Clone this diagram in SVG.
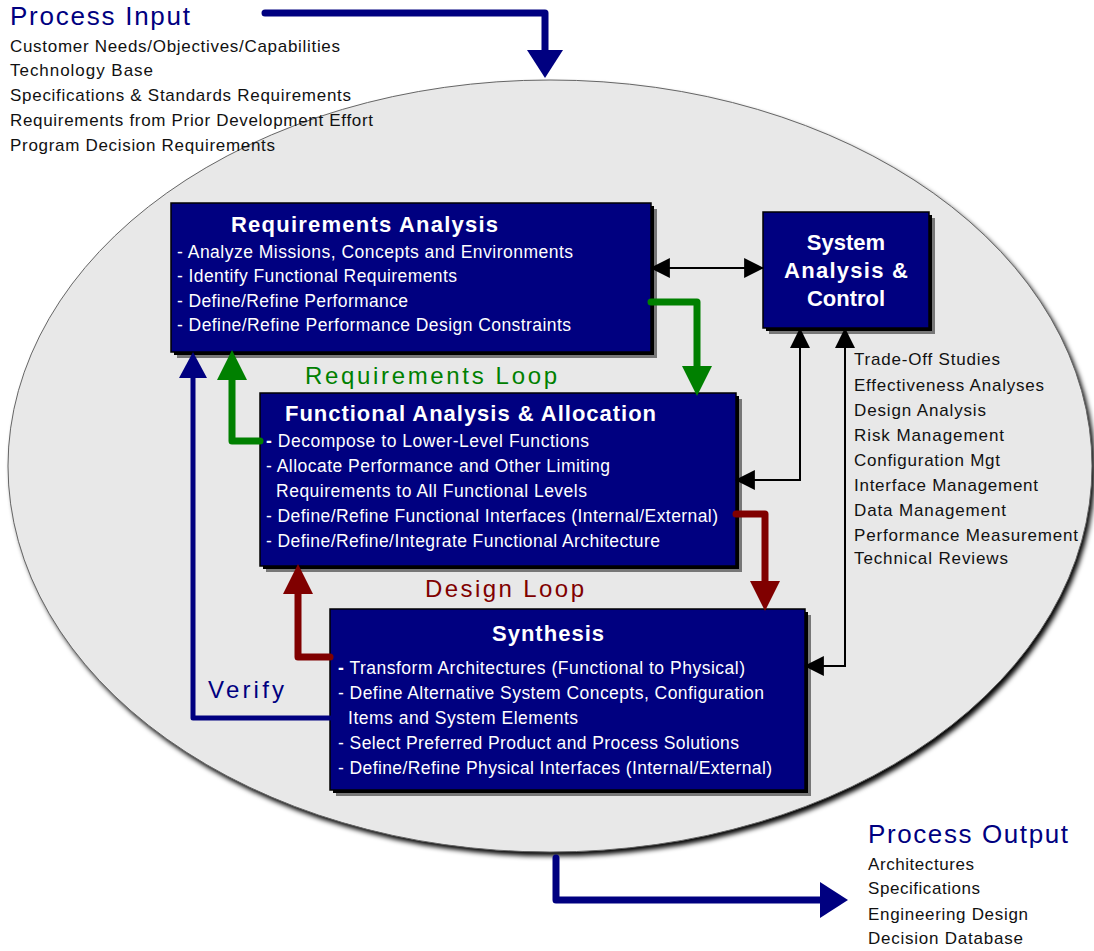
<svg xmlns="http://www.w3.org/2000/svg" width="1094" height="951" viewBox="0 0 1094 951">
<defs>
<style>
text{font-family:"Liberation Sans",Arial,sans-serif;}
.box{fill:#000080;stroke:#000;stroke-width:1.5;}
.sh1{fill:#000;}
.sh2{fill:#777;}
.title{fill:#fff;font-weight:bold;font-size:22px;}
.item{fill:#fff;font-size:17.5px;}
.list{fill:#111;font-size:17px;}
.head{fill:#000080;font-size:26px;}
.blk{fill:none;stroke:#000;stroke-width:2;}
.nav{fill:none;stroke:#000080;stroke-width:7;stroke-linejoin:round;stroke-linecap:round;}
.ver{fill:none;stroke:#000080;stroke-width:5;stroke-linejoin:round;stroke-linecap:round;}
.grn{fill:none;stroke:#008000;stroke-width:7;stroke-linejoin:round;stroke-linecap:round;}
.red{fill:none;stroke:#800000;stroke-width:7;stroke-linejoin:round;stroke-linecap:round;}
.loop{font-size:24px;}
</style>
<filter id="blur" x="-5%" y="-5%" width="110%" height="110%"><feGaussianBlur stdDeviation="2.5"/></filter>
<marker id="ab" markerUnits="userSpaceOnUse" markerWidth="20" markerHeight="20" viewBox="0 0 18 18" refX="17" refY="9" orient="auto-start-reverse"><path d="M0,0 L18,9 L0,18 Z" fill="#000"/></marker>
<marker id="an" markerUnits="userSpaceOnUse" markerWidth="30" markerHeight="36" viewBox="0 0 28 36" refX="0" refY="18" orient="auto"><path d="M0,0 L28,18 L0,36 Z" fill="#000080"/></marker>
<marker id="av" markerUnits="userSpaceOnUse" markerWidth="28" markerHeight="28" viewBox="0 0 26 28" refX="0" refY="14" orient="auto"><path d="M0,0 L26,14 L0,28 Z" fill="#000080"/></marker>
<marker id="ag" markerUnits="userSpaceOnUse" markerWidth="30" markerHeight="30" viewBox="0 0 28 28" refX="0" refY="14" orient="auto"><path d="M0,0 L28,14 L0,28 Z" fill="#008000"/></marker>
<marker id="ar" markerUnits="userSpaceOnUse" markerWidth="30" markerHeight="30" viewBox="0 0 28 28" refX="0" refY="14" orient="auto"><path d="M0,0 L28,14 L0,28 Z" fill="#800000"/></marker>
</defs>
<rect width="1094" height="951" fill="#fff"/>
<g id="process-ellipse">
<ellipse cx="553" cy="470" rx="542" ry="386" fill="#000" filter="url(#blur)"/>
<ellipse cx="550" cy="466" rx="542" ry="386" fill="#e8e8e8" stroke="#666" stroke-width="1"/>
</g>
<g id="process-input">
<text class="head" x="10" y="25" textLength="180" lengthAdjust="spacing">Process Input</text>
<text class="list" x="10" y="52" textLength="330" lengthAdjust="spacing">Customer Needs/Objectives/Capabilities</text>
<text class="list" x="10" y="76" textLength="143" lengthAdjust="spacing">Technology Base</text>
<text class="list" x="10" y="101" textLength="341" lengthAdjust="spacing">Specifications &amp; Standards Requirements</text>
<text class="list" x="10" y="126" textLength="363" lengthAdjust="spacing">Requirements from Prior Development Effort</text>
<text class="list" x="10" y="151" textLength="265" lengthAdjust="spacing">Program Decision Requirements</text>
</g>
<g id="process-output">
<text class="head" x="868" y="843" textLength="200" lengthAdjust="spacing">Process Output</text>
<text class="list" x="868" y="870" textLength="106" lengthAdjust="spacing">Architectures</text>
<text class="list" x="868" y="894" textLength="112" lengthAdjust="spacing">Specifications</text>
<text class="list" x="868" y="920" textLength="160" lengthAdjust="spacing">Engineering Design</text>
<text class="list" x="868" y="944" textLength="155" lengthAdjust="spacing">Decision Database</text>
</g>
<g id="requirements-analysis">
<rect class="sh2" x="177" y="209" width="480" height="149"/>
<rect class="sh1" x="174" y="206" width="480" height="149"/>
<rect class="box" x="171" y="203" width="480" height="149"/>
<text class="title" x="231" y="232" textLength="267" lengthAdjust="spacing">Requirements Analysis</text>
<text class="item" x="177" y="258" textLength="396" lengthAdjust="spacing">- Analyze Missions, Concepts and Environments</text>
<text class="item" x="177" y="282" textLength="280" lengthAdjust="spacing">- Identify Functional Requirements</text>
<text class="item" x="177" y="307" textLength="231" lengthAdjust="spacing">- Define/Refine Performance</text>
<text class="item" x="177" y="331" textLength="394" lengthAdjust="spacing">- Define/Refine Performance Design Constraints</text>
</g>
<g id="system-analysis-control">
<rect class="sh2" x="769" y="218" width="166" height="116"/>
<rect class="sh1" x="766" y="215" width="166" height="116"/>
<rect class="box" x="763" y="212" width="166" height="116"/>
<text class="title" x="846" y="250" text-anchor="middle" font-size="23">System</text>
<text class="title" x="846" y="278" text-anchor="middle" font-size="23" textLength="124" lengthAdjust="spacing">Analysis &amp;</text>
<text class="title" x="846" y="306" text-anchor="middle" font-size="23">Control</text>
</g>
<g id="functional-analysis">
<rect class="sh2" x="266" y="399" width="476" height="173"/>
<rect class="sh1" x="263" y="396" width="476" height="173"/>
<rect class="box" x="260" y="393" width="476" height="173"/>
<text class="title" x="285" y="421" textLength="371" lengthAdjust="spacing">Functional Analysis &amp; Allocation</text>
<text class="item" x="266" y="447" textLength="323" lengthAdjust="spacing"><tspan font-weight="bold">-</tspan> Decompose to Lower-Level Functions</text>
<text class="item" x="266" y="472" textLength="344" lengthAdjust="spacing">- Allocate Performance and Other Limiting</text>
<text class="item" x="276" y="497" textLength="311" lengthAdjust="spacing">Requirements to All Functional Levels</text>
<text class="item" x="266" y="522" textLength="452" lengthAdjust="spacing">- Define/Refine Functional Interfaces (Internal/External)</text>
<text class="item" x="266" y="547" textLength="394" lengthAdjust="spacing">- Define/Refine/Integrate Functional Architecture</text>
</g>
<g id="synthesis">
<rect class="sh2" x="336" y="615" width="475" height="181"/>
<rect class="sh1" x="333" y="612" width="475" height="181"/>
<rect class="box" x="330" y="609" width="475" height="181"/>
<text class="title" x="492" y="641" textLength="112" lengthAdjust="spacing">Synthesis</text>
<text class="item" x="338" y="674" textLength="407" lengthAdjust="spacing"><tspan font-weight="bold">-</tspan> Transform Architectures (Functional to Physical)</text>
<text class="item" x="338" y="699" textLength="426" lengthAdjust="spacing">- Define Alternative System Concepts, Configuration</text>
<text class="item" x="348" y="724" textLength="230" lengthAdjust="spacing">Items and System Elements</text>
<text class="item" x="338" y="749" textLength="401" lengthAdjust="spacing">- Select Preferred Product and Process Solutions</text>
<text class="item" x="338" y="774" textLength="434" lengthAdjust="spacing">- Define/Refine Physical Interfaces (Internal/External)</text>
</g>
<g id="sac-activities">
<text class="list" x="854" y="365" textLength="146" lengthAdjust="spacing">Trade-Off Studies</text>
<text class="list" x="854" y="391" textLength="190" lengthAdjust="spacing">Effectiveness Analyses</text>
<text class="list" x="854" y="416" textLength="132" lengthAdjust="spacing">Design Analysis</text>
<text class="list" x="854" y="441" textLength="150" lengthAdjust="spacing">Risk Management</text>
<text class="list" x="854" y="466" textLength="146" lengthAdjust="spacing">Configuration Mgt</text>
<text class="list" x="854" y="491" textLength="184" lengthAdjust="spacing">Interface Management</text>
<text class="list" x="854" y="516" textLength="152" lengthAdjust="spacing">Data Management</text>
<text class="list" x="854" y="541" textLength="224" lengthAdjust="spacing">Performance Measurement</text>
<text class="list" x="854" y="564" textLength="154" lengthAdjust="spacing">Technical Reviews</text>
</g>
<g id="connectors">
<path class="nav" d="M265,13 H545 V50" marker-end="url(#an)"/>
<path class="nav" d="M556,858 V900 H820" marker-end="url(#an)"/>
<path class="blk" d="M651,268 H763" marker-start="url(#ab)" marker-end="url(#ab)"/>
<path class="blk" d="M800,329 V480 H736" marker-start="url(#ab)" marker-end="url(#ab)"/>
<path class="blk" d="M845,329 V666 H805" marker-start="url(#ab)" marker-end="url(#ab)"/>
<path class="grn" d="M651,302 H697 V366" marker-end="url(#ag)"/>
<path class="grn" d="M260,441 H232 V380" marker-end="url(#ag)"/>
<path class="red" d="M736,514 H765 V581" marker-end="url(#ar)"/>
<path class="red" d="M330,657 H298 V594" marker-end="url(#ar)"/>
<path class="ver" d="M330,718 H193 V378" marker-end="url(#av)"/>
<text class="loop" x="305" y="384" fill="#008000" textLength="252" lengthAdjust="spacing">Requirements Loop</text>
<text class="loop" x="425" y="597" fill="#800000" textLength="159" lengthAdjust="spacing">Design Loop</text>
<text class="loop" x="208" y="698" fill="#000080" textLength="76" lengthAdjust="spacing">Verify</text>
</g>
</svg>
